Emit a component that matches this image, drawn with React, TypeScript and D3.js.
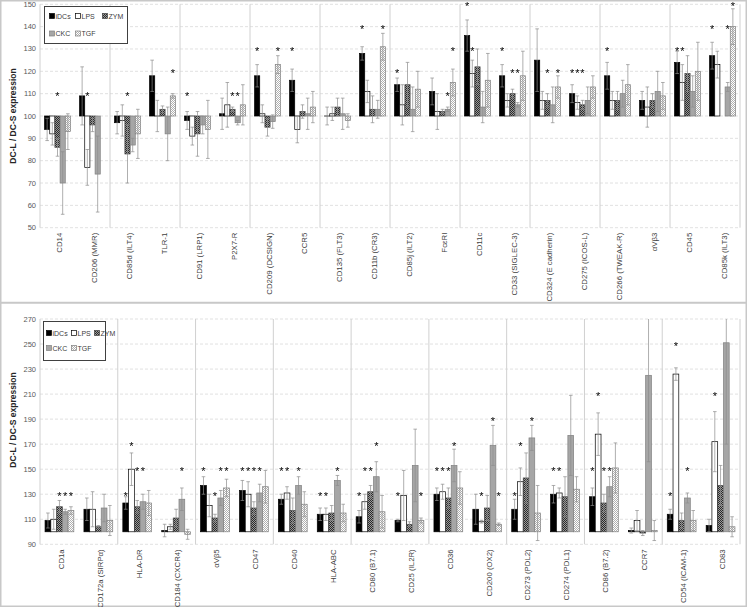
import React from 'react';
import * as d3 from 'd3';

const seriesNames = ['iDCs', 'LPS', 'ZYM', 'CKC', 'TGF'];

// ---------- Top panel data ----------
const topCats = ['CD14', 'CD206 (MMR)', 'CD85d (ILT4)', 'TLR-1', 'CD91 (LRP1)', 'P2X7-R', 'CD209 (DCSIGN)', 'CCR5', 'CD135 (FLT3)', 'CD11b (CR3)', 'CD85j (ILT2)', 'FcεRI', 'CD11c', 'CD33 (SIGLEC-3)', 'CD324 (E cadherin)', 'CD275 (ICOS-L)', 'CD266 (TWEAK-R)', 'αVβ3', 'CD45', 'CD85k (ILT3)'];
const topIDCs = [94, 109, 97, 118, 98, 101, 118, 116, 100, 128, 114, 111, 136, 118, 125, 110, 118, 107, 124, 127];
const topLPS = [92, 77, 98, 100, 91, 105, 101, 94, 101, 111, 105, 102, 119, 107, 107, 106, 107, 104, 115, 123];
const topZYM = [86, 96, 83, 103, 92, 103, 95, 102, 104, 103, 114, 102, 122, 110, 107, 105, 107, 107, 119, 100];
const topCKC = [70, 74, 87, 92, 96, 97, 97.5, 101, 101, 103, 103, 103, 104, 105, 105, 107, 110, 111, 111, 113];
const topTGF = [93, 100, 92, 109, 94, 105, 123, 104, 98, 131, 112, 115, 116, 118, 113, 113, 114, 109, 120, 140];
const topErrIDCs = [5, 13, 5, 7, 4, 7, 5, 5, 4, 3, 3, 6, 7, 5, 14, 4, 6, 4, 5, 6];
const topErrLPS = [5, 8, 7, 7, 4, 10, 4, 6, 3, 5, 9, 8, 6, 3, 4, 3, 4, 9, 8, 6];
const topErrZYM = [4, 3, 13, 1.5, 10, 1, 4, 3, 4, 6, 10, 1, 8, 2, 3, 2, 4, 3, 8, 0];
const topErrCKC = [14, 17, 3, 12, 4, 1, 3, 7, 7, 4, 10, 1, 7, 1, 8, 6, 6, 9, 7, 2];
const topErrTGF = [8, 0, 11, 1, 13, 9, 4, 7, 3, 6, 8, 6, 12, 11, 5, 5, 9, 6, 13, 8];
// significance marks: [series index, level]
const topStars = [
  [[2, 110]], [[1, 110]], [[2, 110]], [[4, 120]], [[0, 110]], [[2, 110], [3, 110]],
  [[0, 130], [4, 130]], [[0, 130]], [], [[0, 140], [4, 140]], [[0, 120]], [[3, 110], [4, 130]],
  [[0, 150], [1, 130]], [[0, 130], [2, 120], [3, 120]], [[2, 120], [4, 120]], [[0, 120], [1, 120], [2, 120]],
  [[0, 130]], [], [[0, 130], [1, 130]], [[0, 140], [3, 140], [4, 150]],
];
const topTicks = [50, 60, 70, 80, 90, 100, 110, 120, 130, 140, 150];

// ---------- Bottom panel data ----------
const botCats = ['CD1a', 'CD172a (SIRPα)', 'HLA-DR', 'CD184 (CXCR4)', 'αVβ5', 'CD47', 'CD40', 'HLA-ABC', 'CD80 (B7.1)', 'CD25 (IL2R)', 'CD36', 'CD200 (OX2)', 'CD273 (PDL2)', 'CD274 (PDL1)', 'CD86 (B7.2)', 'CCR7', 'CD54 (ICAM-1)', 'CD83'];
const botIDCs = [109, 118, 123, 101, 137, 133, 126, 114, 112, 109, 130, 118, 118, 130, 128, 101, 114, 105];
const botLPS = [110, 118, 150, 104, 121, 130, 131, 114, 124, 129, 132, 108, 140, 131, 178, 109, 226, 172];
const botZYM = [120, 104, 120, 111, 111, 119, 117, 115, 132, 106, 127, 119, 143, 128, 123, 99, 109, 137];
const botCKC = [116, 119, 124, 126, 127, 131, 137, 141, 144, 153, 153, 169, 175, 177, 136, 225, 127, 251];
const botTGF = [117, 109, 123, 98, 135, 136, 122, 115, 116, 109, 135, 106, 115, 134, 151, 101, 109, 104];
const botErrIDCs = [6, 9, 5, 5, 7, 8, 4, 5, 5, 1, 5, 12, 8, 7, 7, 2, 4, 5];
const botErrLPS = [8, 14, 13, 2, 9, 10, 5, 5, 6, 20, 6, 1, 11, 4, 17, 8, 5, 24];
const botErrZYM = [5, 1, 5, 7, 3, 5, 10, 6, 5, 2, 8, 10, 20, 16, 7, 2, 6, 16];
const botErrCKC = [2, 11, 6, 9, 6, 7, 7, 4, 12, 29, 13, 16, 10, 32, 8, 69, 4, 81];
const botErrTGF = [3, 12, 10, 4, 7, 13, 10, 7, 13, 2, 13, 1, 22, 10, 20, 8, 8, 8];
const botStars = [
  [[2, 130], [3, 130], [4, 130]], [], [[0, 130], [1, 170], [2, 150], [3, 150]], [[3, 150]],
  [[0, 150], [2, 130], [3, 150], [4, 150]], [[0, 150], [1, 150], [2, 150], [3, 150]],
  [[0, 150], [1, 150], [3, 150]], [[0, 130], [1, 130], [3, 150]], [[0, 130], [1, 150], [2, 150], [3, 170]],
  [[0, 130], [4, 130]], [[0, 150], [1, 150], [2, 150], [3, 170]], [[1, 130], [3, 190], [4, 130]],
  [[0, 130], [1, 170], [3, 190]], [[0, 150], [1, 150]], [[0, 150], [1, 210], [2, 150], [3, 150]],
  [], [[0, 130], [1, 250], [3, 150]], [[1, 210]],
];
const botTicks = [90, 110, 130, 150, 170, 190, 210, 230, 250, 270];

const FONT = '"Liberation Sans", Arial, sans-serif';
const fills = ['#000000', '#ffffff', 'url(#pZYM)', '#a6a6a6', 'url(#pTGF)'];
const strokes = ['#000000', '#000000', '#404040', '#7f7f7f', '#7f7f7f'];

type PanelProps = {
  cats: string[];
  vals: number[][];
  errs: number[][];
  stars: number[][][];
  yMin: number; yMax: number; yTop: number; yBot: number;
  ticks: number[];
  base: number;
  legend: { x: number; y: number; w: number; h: number; dx: number[]; dy: number[] };
  titleY: number;
  border: [number, number];
};

function Panel(p: PanelProps) {
  const x0 = 40, x1 = 740;
  const x = d3.scaleBand<string>().domain(p.cats).range([x0, x1]).paddingInner(0.26).paddingOuter(0.13);
  const xs = d3.scaleBand<string>().domain(seriesNames).range([0, x.bandwidth()]);
  const y = d3.scaleLinear().domain([p.yMin, p.yMax]).range([p.yBot, p.yTop]);
  const step = x.step();
  const seps = d3.range(0, p.cats.length + 1, 2).map(k => x0 + k * step);
  const bw = xs.bandwidth();
  const legendPos = [[0, 0], [1, 0], [2, 0], [0, 1], [1, 1]];
  return (
    <g>
      <rect x={0.75} y={p.border[0]} width={745.5} height={p.border[1] - p.border[0]} fill="#fff" stroke="#c8c8c8" strokeWidth={1.5} />
      {p.ticks.map(t => (
        <line key={'g' + t} x1={x0} x2={x1} y1={y(t)} y2={y(t)} stroke="#d9d9d9" strokeWidth={0.8} strokeDasharray="3,2" />
      ))}
      {seps.map((sx, i) => (
        <line key={'s' + i} x1={sx} x2={sx} y1={p.yTop} y2={p.yBot} stroke="#d0d0d0" strokeWidth={1} />
      ))}
      {p.ticks.map(t => (
        <text key={'t' + t} x={36} y={y(t) + 2.5} fontSize={7.5} fill="#595959" textAnchor="end" fontFamily={FONT}>{t}</text>
      ))}
      <text transform={`translate(16,${p.titleY}) rotate(-90)`} textAnchor="middle" fontSize={8.5} fontWeight="bold" fill="#262626" fontFamily={FONT}>DC-L /  DC-S expression</text>
      {p.cats.map((c, i) => (
        <g key={'c' + c}>
          {seriesNames.map((s, j) => {
            const v = p.vals[j][i];
            const e = p.errs[j][i];
            if (v === p.base && e === 0) return null;
            const bx = (x(c) as number) + (xs(s) as number);
            const yTopBar = Math.min(y(v), y(p.base));
            const h = Math.abs(y(v) - y(p.base));
            return (
              <rect key={s} x={bx} y={yTopBar} width={bw} height={Math.max(h, 0.01)} fill={fills[j]} stroke={strokes[j]} strokeWidth={0.7} />
            );
          })}
          {seriesNames.map((s, j) => {
            const v = p.vals[j][i];
            const e = p.errs[j][i];
            if (e === 0) return null;
            const cx = (x(c) as number) + (xs(s) as number) + bw / 2;
            const hiV = v + e, loV = v - e;
            const hi = y(Math.min(hiV, p.yMax));
            const lo = y(Math.max(loV, p.yMin));
            return (
              <g key={'e' + s} stroke="#8c8c8c" strokeWidth={0.7}>
                <line x1={cx} x2={cx} y1={lo} y2={hi} />
                {hiV <= p.yMax && <line x1={cx - 1.8} x2={cx + 1.8} y1={hi} y2={hi} />}
                {loV >= p.yMin && <line x1={cx - 1.8} x2={cx + 1.8} y1={lo} y2={lo} />}
              </g>
            );
          })}
          <g filter="url(#gray)">
            {p.stars[i].map(([j, lvl], k) => (
              <text key={'st' + k} x={(x(c) as number) + (xs(seriesNames[j]) as number) + bw / 2} y={y(lvl) + 6} textAnchor="middle" fontSize={11} fill="#000" fontFamily={FONT}>*</text>
            ))}
          </g>
          <text transform={`translate(${(x(c) as number) + x.bandwidth() / 2 + 4.3},${p.yBot + 5}) rotate(-90)`} textAnchor="end" fontSize={7.8} fill="#404040" fontFamily={FONT}>{c}</text>
        </g>
      ))}
      <rect x={p.legend.x} y={p.legend.y} width={p.legend.w} height={p.legend.h} fill="#fff" stroke="#404040" strokeWidth={1} />
      {seriesNames.map((s, j) => {
        const [cx, cy] = legendPos[j];
        const lx = p.legend.x + p.legend.dx[cx];
        const ly = p.legend.y + p.legend.dy[cy];
        return (
          <g key={'l' + s}>
            <rect x={lx} y={ly - 2.5} width={5} height={5} fill={fills[j]} stroke={strokes[j]} strokeWidth={0.7} />
            <text x={lx + 6} y={ly + 2.5} fontSize={7} fill="#404040" fontFamily={FONT}>{s}</text>
          </g>
        );
      })}
    </g>
  );
}

export default function App() {
  return (
    <svg width={747} height={607} style={{ position: 'absolute', left: 0, top: 0, background: '#fff' }}>
      <defs>
        <filter id="gray" x="-50%" y="-50%" width="200%" height="200%">
          <feColorMatrix type="saturate" values="0" />
        </filter>
        <pattern id="pZYM" width={2} height={2} patternUnits="userSpaceOnUse">
          <rect width={2} height={2} fill="#9a9a9a" />
          <rect width={1} height={1} fill="#2a2a2a" />
          <rect x={1} y={1} width={1} height={1} fill="#2a2a2a" />
        </pattern>
        <pattern id="pTGF" width={2} height={2} patternUnits="userSpaceOnUse">
          <rect width={2} height={2} fill="#ffffff" />
          <rect width={1} height={1} fill="#b0b0b0" />
          <rect x={1} y={1} width={1} height={1} fill="#b0b0b0" />
        </pattern>
      </defs>
      <Panel
        cats={topCats}
        vals={[topIDCs, topLPS, topZYM, topCKC, topTGF]}
        errs={[topErrIDCs, topErrLPS, topErrZYM, topErrCKC, topErrTGF]}
        stars={topStars}
        yMin={50} yMax={150} yTop={4.3} yBot={227.7}
        ticks={topTicks} base={100}
        legend={{ x: 44.5, y: 6.5, w: 83, h: 37, dx: [5, 31, 58], dy: [9.5, 27] }}
        titleY={116}
        border={[0.75, 302.5]}
      />
      <Panel
        cats={botCats}
        vals={[botIDCs, botLPS, botZYM, botCKC, botTGF]}
        errs={[botErrIDCs, botErrLPS, botErrZYM, botErrCKC, botErrTGF]}
        stars={botStars}
        yMin={90} yMax={270} yTop={319} yBot={544.3}
        ticks={botTicks} base={100}
        legend={{ x: 43.5, y: 321.5, w: 62, h: 39, dx: [3, 28, 51], dy: [11.5, 26.5] }}
        titleY={420}
        border={[303, 606.25]}
      />
    </svg>
  );
}
